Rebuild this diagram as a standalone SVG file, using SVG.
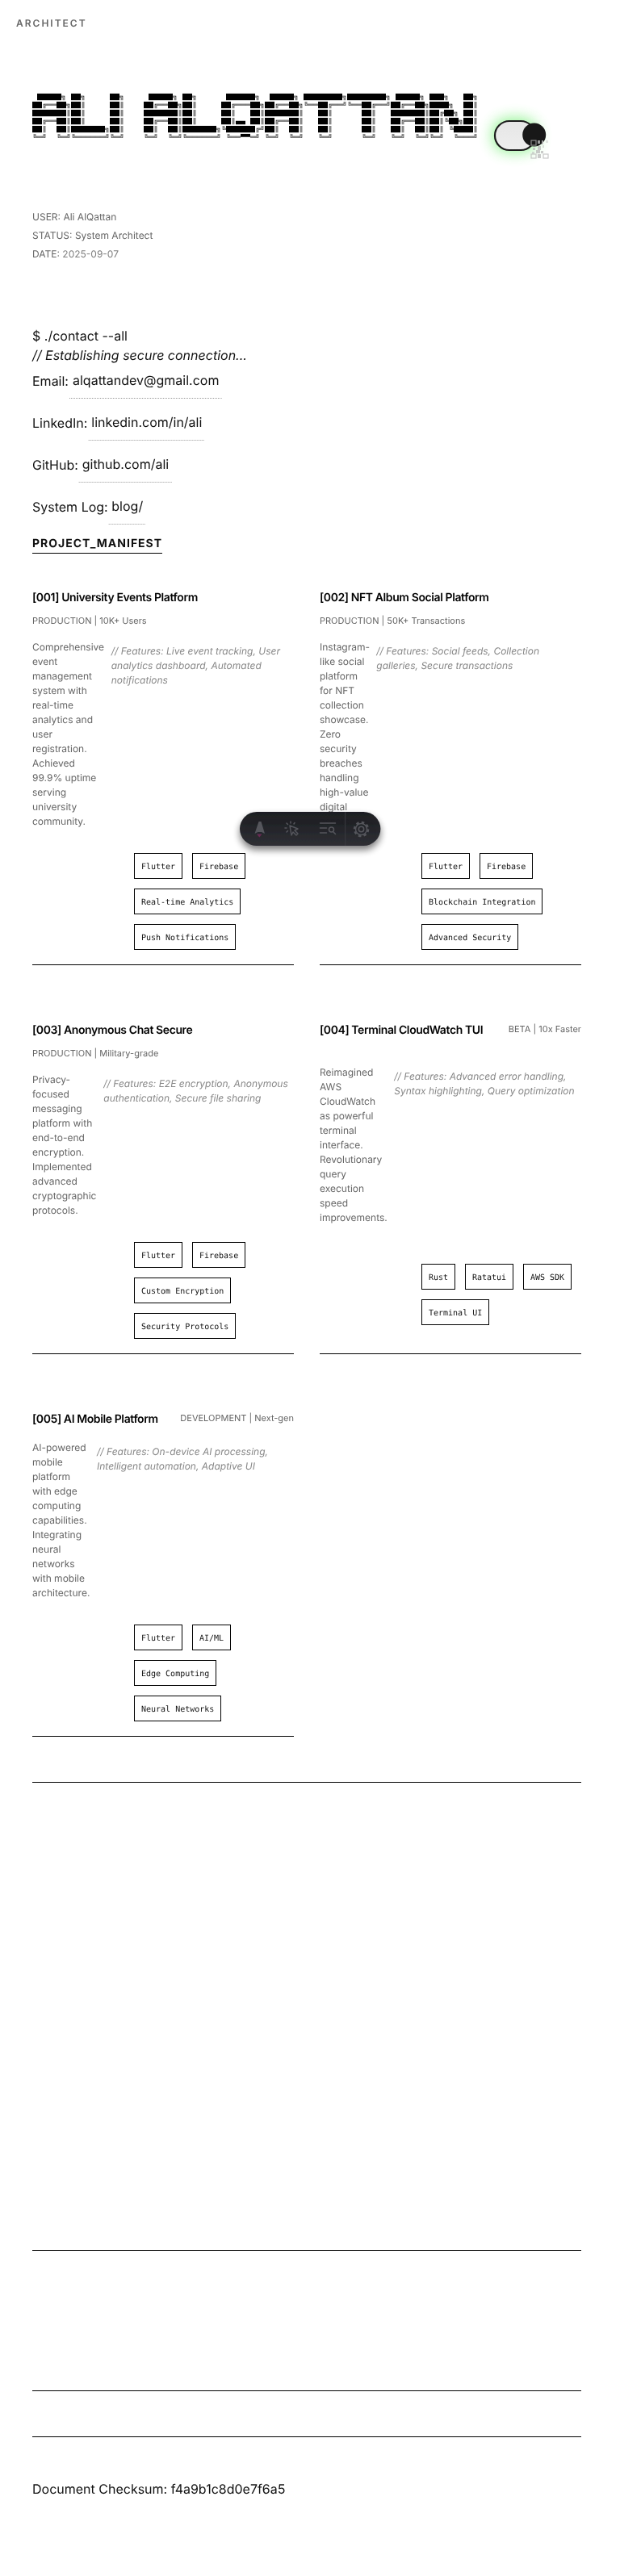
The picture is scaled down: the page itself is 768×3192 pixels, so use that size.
<svg xmlns="http://www.w3.org/2000/svg" width="768" height="3192" viewBox="0 0 768 3192">
<style>
text{font-family:Inter,"Liberation Sans",sans-serif;text-rendering:geometricPrecision}
.art{font-family:"Liberation Mono","DejaVu Sans Mono",monospace;font-size:10px;fill:#000;white-space:pre}
.meta{font-size:11px;fill:#666}
.info{font-size:12px;fill:#666}
.title{font-size:14px;font-weight:600;fill:#000;letter-spacing:-.4px}
.desc{font-size:12px;fill:#666}
.feat{font-size:12px;fill:#888;font-style:italic}
.body{font-size:16px;fill:#111}
.tag rect{fill:#fff;stroke:#000;stroke-width:1}
.tag text{font-family:"DejaVu Sans Mono","Liberation Mono",monospace;font-size:10px;fill:#111}
.rule{stroke:#000;stroke-width:1}
.dot{stroke:#999;stroke-width:1;stroke-dasharray:1 1}
.ico{fill:none;stroke:#55565c;stroke-width:1.5;stroke-linecap:round;stroke-linejoin:round}
</style>
<defs>
<filter id="glow" x="-80%" y="-120%" width="260%" height="340%"><feGaussianBlur stdDeviation="9"/></filter>
<filter id="shadow" x="-20%" y="-50%" width="140%" height="220%"><feDropShadow dx="0" dy="5" stdDeviation="5" flood-color="#000" flood-opacity=".55"/></filter>
<linearGradient id="bar" x1="0" y1="0" x2="0" y2="1"><stop offset="0" stop-color="#17181c"/><stop offset="1" stop-color="#2b2c32"/></linearGradient>
<linearGradient id="pill" x1="0" y1="0" x2="0" y2="1"><stop offset="0" stop-color="#e6e6e6"/><stop offset="1" stop-color="#eeeeee"/></linearGradient>
</defs>
<rect width="768" height="3192" fill="#fff"/>
<g opacity=".999">

<g id="header">
<text x="20" y="33" font-size="12" font-weight="600" fill="#666" letter-spacing="2">ARCHITECT</text>
</g>

<g id="ascii-title">
<text class="art" transform="translate(40 122.100) scale(1 .73)"> █████╗ ██╗     ██╗     █████╗ ██╗      ██████╗  █████╗ ████████╗████████╗ █████╗ ███╗   ██╗</text>
<text class="art" transform="translate(40 132.100) scale(1 .73)">██╔══██╗██║     ██║    ██╔══██╗██║     ██╔═══██╗██╔══██╗╚══██╔══╝╚══██╔══╝██╔══██╗████╗  ██║</text>
<text class="art" transform="translate(40 142.100) scale(1 .73)">███████║██║     ██║    ███████║██║     ██║   ██║███████║   ██║      ██║   ███████║██╔██╗ ██║</text>
<text class="art" transform="translate(40 152.100) scale(1 .73)">██╔══██║██║     ██║    ██╔══██║██║     ██║▄▄ ██║██╔══██║   ██║      ██║   ██╔══██║██║╚██╗██║</text>
<text class="art" transform="translate(40 162.100) scale(1 .73)">██║  ██║███████╗██║    ██║  ██║███████╗╚██████╔╝██║  ██║   ██║      ██║   ██║  ██║██║ ╚████║</text>
<text class="art" transform="translate(40 172.100) scale(1 .73)">╚═╝  ╚═╝╚══════╝╚═╝    ╚═╝  ╚═╝╚══════╝ ╚══▀▀═╝ ╚═╝  ╚═╝   ╚═╝      ╚═╝   ╚═╝  ╚═╝╚═╝  ╚═══╝</text>
</g>

<g id="theme-toggle">
<rect x="610" y="147" width="56" height="41" rx="20" fill="#66ee66" opacity=".75" filter="url(#glow)"/>
<rect x="613" y="150" width="50" height="36" rx="18" fill="url(#pill)" stroke="#1c1c1c" stroke-width="2.2"/>
<circle cx="661.7" cy="167" r="14.5" fill="#181818"/>
<g fill="#bdbdbd" opacity=".8">
<rect x="658" y="174" width="6" height="6" fill="none" stroke="#aaa" stroke-width="1.2"/>
<rect x="666" y="174" width="3" height="4"/><rect x="671" y="174" width="2" height="5"/><rect x="676" y="174" width="3" height="3" opacity=".5"/>
<rect x="660" y="183" width="3" height="3"/><rect x="666" y="181" width="4" height="5"/><rect x="672" y="180" width="2" height="3" opacity=".6"/>
<rect x="659" y="188" width="3" height="3" opacity=".7"/><rect x="664" y="186" width="5" height="4"/><rect x="670" y="187" width="3" height="3"/>
<rect x="658" y="191" width="6" height="5" fill="none" stroke="#bbb" stroke-width="1.2"/><rect x="666" y="191" width="4" height="5"/><rect x="673" y="191" width="6" height="5" fill="none" stroke="#bbb" stroke-width="1.2"/>
</g>
</g>

<g id="system-info">
<text class="info" x="40" y="272.5">USER: Ali AlQattan</text>
<text class="info" x="40" y="296">STATUS: System Architect</text>
<text class="info" x="40" y="318.5">DATE: <tspan fill="#808080">2025-09-07</tspan></text>
</g>

<g id="contact">
<text class="body" x="40" y="422">$ ./contact --all</text>
<text class="body" x="40" y="446" font-style="italic">// Establishing secure connection...</text>
<text class="body" x="40" y="478">Email:</text><text class="body" x="90" y="477">alqattandev@gmail.com</text>
<text class="body" x="40" y="530">LinkedIn:</text><text class="body" x="113.3" y="529">linkedin.com/in/ali</text>
<text class="body" x="40" y="582">GitHub:</text><text class="body" x="101.7" y="581">github.com/ali</text>
<text class="body" x="40" y="634">System Log:</text><text class="body" x="138.3" y="633">blog/</text>
<line class="dot" x1="86" y1="493.5" x2="274.7" y2="493.5"/>
<line class="dot" x1="109.7" y1="545.5" x2="253.3" y2="545.5"/>
<line class="dot" x1="97.7" y1="597.5" x2="212.7" y2="597.5"/>
<line class="dot" x1="134.7" y1="649.5" x2="180.3" y2="649.5"/>
</g>

<g id="manifest-heading">
<text x="40" y="678" font-size="14" font-weight="700" fill="#111" letter-spacing="1">PROJECT_MANIFEST</text>
<line class="rule" x1="40" y1="685.5" x2="201" y2="685.5"/>
</g>

<g id="project-001">
<text class="title" x="40" y="745">[001] University Events Platform</text>
<text class="meta" x="40" y="773">PRODUCTION | 10K+ Users</text>
<text class="desc" y="788"><tspan x="40" dy="18">Comprehensive</tspan><tspan x="40" dy="18">event</tspan><tspan x="40" dy="18">management</tspan><tspan x="40" dy="18">system with</tspan><tspan x="40" dy="18">real-time</tspan><tspan x="40" dy="18">analytics and</tspan><tspan x="40" dy="18">user</tspan><tspan x="40" dy="18">registration.</tspan><tspan x="40" dy="18">Achieved</tspan><tspan x="40" dy="18">99.9% uptime</tspan><tspan x="40" dy="18">serving</tspan><tspan x="40" dy="18">university</tspan><tspan x="40" dy="18">community.</tspan></text>
<text class="feat" y="793"><tspan x="137.7" dy="18">// Features: Live event tracking, User</tspan><tspan x="137.7" dy="18">analytics dashboard, Automated</tspan><tspan x="137.7" dy="18">notifications</tspan></text>
<g class="tag"><rect x="166.5" y="1057.5" width="59" height="31"/><text x="175" y="1076.5">Flutter</text></g>
<g class="tag"><rect x="238.5" y="1057.5" width="65" height="31"/><text x="247" y="1076.5">Firebase</text></g>
<g class="tag"><rect x="166.5" y="1101.5" width="131" height="31"/><text x="175" y="1120.5">Real-time Analytics</text></g>
<g class="tag"><rect x="166.5" y="1145.5" width="125" height="31"/><text x="175" y="1164.5">Push Notifications</text></g>
<line class="rule" x1="40" y1="1195.5" x2="364" y2="1195.5"/>
</g>

<g id="project-002">
<text class="title" x="396" y="745">[002] NFT Album Social Platform</text>
<text class="meta" x="396" y="773">PRODUCTION | 50K+ Transactions</text>
<text class="desc" y="788"><tspan x="396" dy="18">Instagram-</tspan><tspan x="396" dy="18">like social</tspan><tspan x="396" dy="18">platform</tspan><tspan x="396" dy="18">for NFT</tspan><tspan x="396" dy="18">collection</tspan><tspan x="396" dy="18">showcase.</tspan><tspan x="396" dy="18">Zero</tspan><tspan x="396" dy="18">security</tspan><tspan x="396" dy="18">breaches</tspan><tspan x="396" dy="18">handling</tspan><tspan x="396" dy="18">high-value</tspan><tspan x="396" dy="18">digital</tspan><tspan x="396" dy="18">assets.</tspan></text>
<text class="feat" y="793"><tspan x="466.3" dy="18">// Features: Social feeds, Collection</tspan><tspan x="466.3" dy="18">galleries, Secure transactions</tspan></text>
<g class="tag"><rect x="522.5" y="1057.5" width="59" height="31"/><text x="531" y="1076.5">Flutter</text></g>
<g class="tag"><rect x="594.5" y="1057.5" width="65" height="31"/><text x="603" y="1076.5">Firebase</text></g>
<g class="tag"><rect x="522.5" y="1101.5" width="149" height="31"/><text x="531" y="1120.5">Blockchain Integration</text></g>
<g class="tag"><rect x="522.5" y="1145.5" width="119" height="31"/><text x="531" y="1164.5">Advanced Security</text></g>
<line class="rule" x1="396" y1="1195.5" x2="720" y2="1195.5"/>
</g>

<g id="project-003">
<text class="title" x="40" y="1281">[003] Anonymous Chat Secure</text>
<text class="meta" x="40" y="1309">PRODUCTION | Military-grade</text>
<text class="desc" y="1324"><tspan x="40" dy="18">Privacy-</tspan><tspan x="40" dy="18">focused</tspan><tspan x="40" dy="18">messaging</tspan><tspan x="40" dy="18">platform with</tspan><tspan x="40" dy="18">end-to-end</tspan><tspan x="40" dy="18">encryption.</tspan><tspan x="40" dy="18">Implemented</tspan><tspan x="40" dy="18">advanced</tspan><tspan x="40" dy="18">cryptographic</tspan><tspan x="40" dy="18">protocols.</tspan></text>
<text class="feat" y="1329"><tspan x="128.3" dy="18">// Features: E2E encryption, Anonymous</tspan><tspan x="128.3" dy="18">authentication, Secure file sharing</tspan></text>
<g class="tag"><rect x="166.5" y="1539.5" width="59" height="31"/><text x="175" y="1558.5">Flutter</text></g>
<g class="tag"><rect x="238.5" y="1539.5" width="65" height="31"/><text x="247" y="1558.5">Firebase</text></g>
<g class="tag"><rect x="166.5" y="1583.5" width="119" height="31"/><text x="175" y="1602.5">Custom Encryption</text></g>
<g class="tag"><rect x="166.5" y="1627.5" width="125" height="31"/><text x="175" y="1646.5">Security Protocols</text></g>
<line class="rule" x1="40" y1="1677.5" x2="364" y2="1677.5"/>
</g>

<g id="project-004">
<text class="title" x="396" y="1281">[004] Terminal CloudWatch TUI</text>
<text class="meta" x="720" y="1279" text-anchor="end">BETA | 10x Faster</text>
<text class="desc" y="1315"><tspan x="396" dy="18">Reimagined</tspan><tspan x="396" dy="18">AWS</tspan><tspan x="396" dy="18">CloudWatch</tspan><tspan x="396" dy="18">as powerful</tspan><tspan x="396" dy="18">terminal</tspan><tspan x="396" dy="18">interface.</tspan><tspan x="396" dy="18">Revolutionary</tspan><tspan x="396" dy="18">query</tspan><tspan x="396" dy="18">execution</tspan><tspan x="396" dy="18">speed</tspan><tspan x="396" dy="18">improvements.</tspan></text>
<text class="feat" y="1320"><tspan x="488.3" dy="18">// Features: Advanced error handling,</tspan><tspan x="488.3" dy="18">Syntax highlighting, Query optimization</tspan></text>
<g class="tag"><rect x="522.5" y="1566.5" width="41" height="31"/><text x="531" y="1585.5">Rust</text></g>
<g class="tag"><rect x="576.5" y="1566.5" width="59" height="31"/><text x="585" y="1585.5">Ratatui</text></g>
<g class="tag"><rect x="648.5" y="1566.5" width="59" height="31"/><text x="657" y="1585.5">AWS SDK</text></g>
<g class="tag"><rect x="522.5" y="1610.5" width="83" height="31"/><text x="531" y="1629.5">Terminal UI</text></g>
<line class="rule" x1="396" y1="1677.5" x2="720" y2="1677.5"/>
</g>

<g id="project-005">
<text class="title" x="40" y="1763">[005] AI Mobile Platform</text>
<text class="meta" x="364" y="1761" text-anchor="end">DEVELOPMENT | Next-gen</text>
<text class="desc" y="1780"><tspan x="40" dy="18">AI-powered</tspan><tspan x="40" dy="18">mobile</tspan><tspan x="40" dy="18">platform</tspan><tspan x="40" dy="18">with edge</tspan><tspan x="40" dy="18">computing</tspan><tspan x="40" dy="18">capabilities.</tspan><tspan x="40" dy="18">Integrating</tspan><tspan x="40" dy="18">neural</tspan><tspan x="40" dy="18">networks</tspan><tspan x="40" dy="18">with mobile</tspan><tspan x="40" dy="18">architecture.</tspan></text>
<text class="feat" y="1785"><tspan x="120" dy="18">// Features: On-device AI processing,</tspan><tspan x="120" dy="18">Intelligent automation, Adaptive UI</tspan></text>
<g class="tag"><rect x="166.5" y="2013.5" width="59" height="31"/><text x="175" y="2032.5">Flutter</text></g>
<g class="tag"><rect x="238.5" y="2013.5" width="47" height="31"/><text x="247" y="2032.5">AI/ML</text></g>
<g class="tag"><rect x="166.5" y="2057.5" width="101" height="31"/><text x="175" y="2076.5">Edge Computing</text></g>
<g class="tag"><rect x="166.5" y="2101.5" width="107" height="31"/><text x="175" y="2120.5">Neural Networks</text></g>
<line class="rule" x1="40" y1="2151.5" x2="364" y2="2151.5"/>
</g>

<g id="dividers">
<line class="rule" x1="40" y1="2208.5" x2="720" y2="2208.5"/>
<line class="rule" x1="40" y1="2788.5" x2="720" y2="2788.5"/>
<line class="rule" x1="40" y1="2962.5" x2="720" y2="2962.5"/>
<line class="rule" x1="40" y1="3019.5" x2="720" y2="3019.5"/>
</g>

<g id="footer">
<text class="body" x="40" y="3090">Document Checksum: f4a9b1c8d0e7f6a5</text>
</g>

<g id="dev-toolbar">
<rect x="297" y="1006" width="174.4" height="42" rx="21" fill="url(#bar)" fill-opacity=".97" filter="url(#shadow)"/>
<path d="M320.5 1018 h3 l4.5 15 -4-2 h-4.5 l-4 2z" fill="#55565c"/>
<path d="M318 1033.5 h6.5 l-3.2 4z" fill="#6b2a55"/>
<path class="ico" d="M359 1023 l10 4 -4 2 4 4 -2 2 -4-4 -2 4z"/>
<path class="ico" d="M355 1020 l1.5 1.5 M360 1018 v2 M353 1026 h2 M355 1031 l1.5-1.5 M365 1019.5 l-1 1.5"/>
<path class="ico" d="M396.5 1020 h19 M396.5 1026 h8 M396.5 1032 h8"/>
<circle class="ico" cx="410.5" cy="1028" r="3"/>
<path class="ico" d="M413 1031 l2.5 2.5"/>
<line x1="427.7" y1="1006" x2="427.7" y2="1048" stroke="#3a3b41"/>
<circle class="ico" cx="447.5" cy="1027.5" r="3.2"/>
<circle class="ico" cx="447.5" cy="1027.5" r="7"/>
<circle cx="447.5" cy="1027.5" r="8.5" fill="none" stroke="#55565c" stroke-width="2.5" stroke-dasharray="3.5 3.18"/>
</g>
</g>
</svg>
